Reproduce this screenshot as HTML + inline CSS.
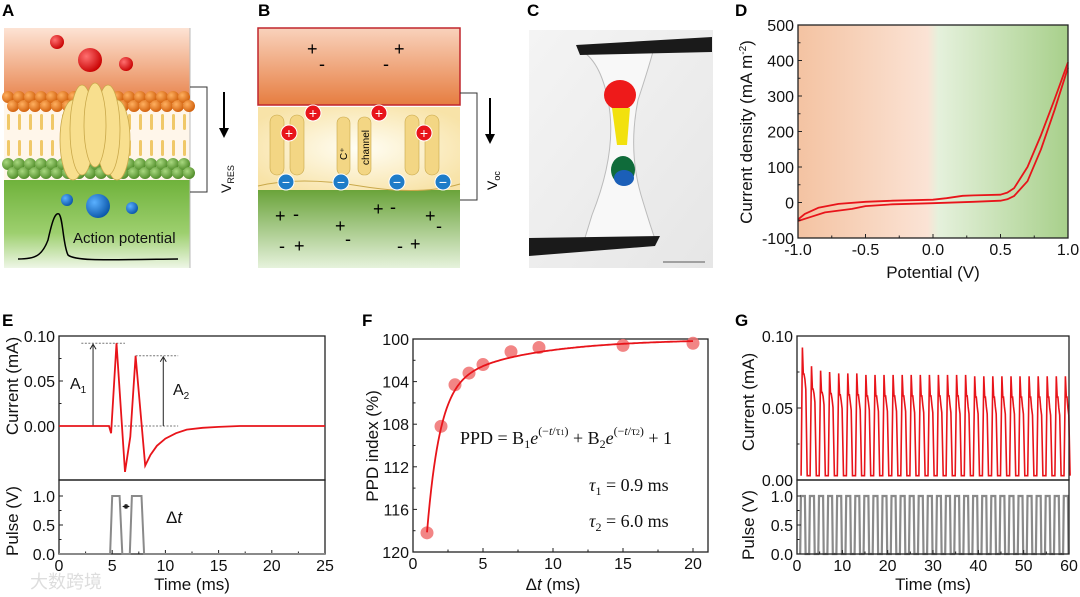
<!DOCTYPE html>
<html><head><meta charset="utf-8"><style>
html,body{margin:0;padding:0;background:#fff;}
svg{display:block;font-family:"Liberation Sans",Arial,sans-serif;}
</style></head><body>
<svg id="fig" width="1080" height="597" viewBox="0 0 1080 597" xmlns="http://www.w3.org/2000/svg">
<defs>
<linearGradient id="aTop" x1="0" y1="0" x2="0" y2="1"><stop offset="0" stop-color="#fde3d4"/><stop offset="1" stop-color="#e8844d"/></linearGradient>
<linearGradient id="aBot" x1="0" y1="0" x2="0" y2="1"><stop offset="0" stop-color="#6fb23b"/><stop offset="0.6" stop-color="#9dcf6e"/><stop offset="1" stop-color="#eef6e6"/></linearGradient>
<linearGradient id="bTop" x1="0" y1="0" x2="0" y2="1"><stop offset="0" stop-color="#f9d2bc"/><stop offset="1" stop-color="#e67d40"/></linearGradient>
<linearGradient id="bBot" x1="0" y1="0" x2="0" y2="1"><stop offset="0" stop-color="#6aa33a"/><stop offset="1" stop-color="#e6f2dc"/></linearGradient>
<radialGradient id="bMid" cx="0.5" cy="0.5" r="0.6"><stop offset="0" stop-color="#fffef5"/><stop offset="1" stop-color="#f8e3a8"/></radialGradient>
<linearGradient id="dBg" x1="0" y1="0" x2="1" y2="0"><stop offset="0" stop-color="#f4c3a2"/><stop offset="0.48" stop-color="#fbe3d5"/><stop offset="0.52" stop-color="#e5f1dc"/><stop offset="1" stop-color="#a8d08b"/></linearGradient>
<radialGradient id="redBall" cx="0.35" cy="0.35" r="0.7"><stop offset="0" stop-color="#ff7070"/><stop offset="1" stop-color="#c80000"/></radialGradient>
<radialGradient id="blueBall" cx="0.35" cy="0.35" r="0.7"><stop offset="0" stop-color="#5ab0ff"/><stop offset="1" stop-color="#0a55a8"/></radialGradient>
<radialGradient id="orgBall" cx="0.35" cy="0.35" r="0.7"><stop offset="0" stop-color="#ffb060"/><stop offset="1" stop-color="#d05e0a"/></radialGradient>
<radialGradient id="grnBall" cx="0.35" cy="0.35" r="0.7"><stop offset="0" stop-color="#a9d880"/><stop offset="1" stop-color="#4d8a26"/></radialGradient>
<linearGradient id="photo" x1="0" y1="0" x2="1" y2="1"><stop offset="0" stop-color="#f4f4f4"/><stop offset="1" stop-color="#e6e6e6"/></linearGradient>
</defs>

<g font-weight="bold" font-size="17" fill="#000">
<text x="2" y="16">A</text>
<text x="258" y="16">B</text>
<text x="527" y="16">C</text>
<text x="735" y="16">D</text>
<text x="2" y="326">E</text>
<text x="362" y="326">F</text>
<text x="735" y="326">G</text>
</g>

<g>
<rect x="4" y="28" width="186" height="72" fill="url(#aTop)"/>
<rect x="4" y="100" width="186" height="85" fill="#fff6ea"/>
<rect x="4" y="180" width="186" height="88" fill="url(#aBot)"/>
<line x1="190" y1="28" x2="190" y2="268" stroke="#bbb"/>
<g id="aLipids"></g>
<circle cx="57" cy="42" r="7" fill="url(#redBall)"/>
<circle cx="90" cy="60" r="12" fill="url(#redBall)"/>
<circle cx="126" cy="64" r="7" fill="url(#redBall)"/>
<g fill="#f8df8e" stroke="#c9a84a" stroke-width="0.8">
<ellipse cx="73" cy="140" rx="13" ry="40"/><ellipse cx="117" cy="140" rx="13" ry="40"/>
<ellipse cx="82" cy="130" rx="12" ry="45"/><ellipse cx="108" cy="130" rx="12" ry="45"/>
<ellipse cx="95" cy="125" rx="11" ry="42"/>
</g>
<circle cx="67" cy="200" r="6" fill="url(#blueBall)"/>
<circle cx="98" cy="206" r="12" fill="url(#blueBall)"/>
<circle cx="132" cy="208" r="6" fill="url(#blueBall)"/>
<path d="M18,259 C35,259 42,256 48,240 C52,222 55,212 59,214 C63,218 63,245 68,255 C75,261 100,260 178,259" fill="none" stroke="#000" stroke-width="1.5"/>
<text x="73" y="243" font-size="15" fill="#111">Action potential</text>
<path d="M190,87 H207 V192 H190" fill="none" stroke="#333" stroke-width="1"/>
<line x1="224" y1="92" x2="224" y2="132" stroke="#000" stroke-width="2"/>
<path d="M219,128 L224,138 L229,128 Z" fill="#000"/>
<text transform="translate(231,193) rotate(-90)" font-size="14" fill="#111">V<tspan font-size="9" dy="3">RES</tspan></text>
</g>

<g>
<rect x="258" y="28" width="202" height="77" fill="url(#bTop)" stroke="#c0272d" stroke-width="1.5"/>
<rect x="258" y="107" width="202" height="83" fill="url(#bMid)"/>
<rect x="258" y="190" width="202" height="78" fill="url(#bBot)"/>
<g fill="#f3d684" stroke="#c9a84a" stroke-width="0.6">
<rect x="270" y="115" width="14" height="60" rx="7"/><rect x="290" y="115" width="14" height="60" rx="7"/>
<rect x="337" y="117" width="13" height="58" rx="6"/><rect x="358" y="117" width="13" height="58" rx="6"/>
<rect x="405" y="115" width="14" height="60" rx="7"/><rect x="425" y="115" width="14" height="60" rx="7"/>
</g>
<path d="M258,186 Q300,176 360,186 T460,184" fill="none" stroke="#c9a84a"/>
<text transform="translate(347,160) rotate(-90)" font-size="10">C⁺</text>
<text transform="translate(369,165) rotate(-90)" font-size="10">channel</text>
<g id="bIons"></g>
<g font-size="18" fill="#000">
<text x="307" y="55">+</text><text x="319" y="70">-</text><text x="383" y="70">-</text><text x="394" y="55">+</text>
<text x="275" y="222">+</text><text x="293" y="220">-</text><text x="335" y="232">+</text><text x="345" y="245">-</text>
<text x="373" y="215">+</text><text x="390" y="213">-</text><text x="425" y="222">+</text><text x="436" y="232">-</text>
<text x="279" y="252">-</text><text x="294" y="252">+</text><text x="397" y="252">-</text><text x="410" y="250">+</text>
</g>
<path d="M460,93 H477 V200 H460" fill="none" stroke="#333" stroke-width="1"/>
<line x1="490" y1="98" x2="490" y2="138" stroke="#000" stroke-width="2"/>
<path d="M485,134 L490,144 L495,134 Z" fill="#000"/>
<text transform="translate(497,190) rotate(-90)" font-size="14">V<tspan font-size="9" dy="3">oc</tspan></text>
</g>

<g>
<rect x="529" y="30" width="184" height="238" fill="url(#photo)"/>
<path d="M580,50 Q600,60 608,100 Q618,150 592,215 Q585,238 583,244 L656,242 Q650,225 641,195 Q628,150 638,100 Q648,70 654,48 Z" fill="#f8f8f8" stroke="#bbb" stroke-width="1"/>
<ellipse cx="620" cy="95" rx="16" ry="15" fill="#ee1a1a"/>
<path d="M612,108 L630,108 L627,145 L617,145 Z" fill="#f2e10e"/>
<ellipse cx="623" cy="170" rx="12" ry="14" fill="#0f6b3a"/>
<ellipse cx="624" cy="178" rx="10" ry="8" fill="#1b5fb8"/>
<path d="M576,45 L712,37 L712,52 L580,55 Z" fill="#1a1a1a"/>
<path d="M529,238 L660,236 L655,246 L529,256 Z" fill="#1a1a1a"/>
<line x1="663" y1="262" x2="705" y2="262" stroke="#888" stroke-width="1.5"/>
</g>

<g id="charts"></g>
<text x="30" y="588" font-size="18" fill="#ddd" font-family="'Liberation Sans','Noto Sans CJK SC',sans-serif">大数跨境</text>
</svg>

<script>
var dForwardV = [-1.0,-0.9,-0.8,-0.6,-0.5,-0.3,0.0,0.3,0.5,0.55,0.6,0.7,0.8,0.9,1.0];
var dForwardI = [-52,-40,-28,-18,-10,-5,-2,2,5,9,18,60,150,260,380];
var dReturnV = [1.0,0.9,0.8,0.7,0.6,0.55,0.5,0.3,0.22,0.1,0.0,-0.3,-0.5,-0.7,-0.85,-0.95,-1.0];
var dReturnI = [395,290,190,100,40,28,22,20,19,12,8,5,2,-4,-15,-32,-48];
var dXTicks = [-1.0,-0.5,0.0,0.5,1.0];
var dXLabels = ["-1.0","-0.5","0.0","0.5","1.0"];
var dYTicks = [-100,0,100,200,300,400,500];

var eTime = [0,4.7,4.9,5.4,6.2,6.7,7.2,8.1,8.6,9.2,10,11,12,13.5,15,17,25];
var eCurrent = [0,0,-0.008,0.092,-0.051,-0.012,0.078,-0.044,-0.032,-0.022,-0.014,-0.008,-0.004,-0.002,-0.001,0,0];
var ePulseT = [0,4.8,5.0,5.7,5.95,6.65,6.85,7.75,8.0,25];
var ePulseV = [0,0,1,1,0,0,1,1,0,0];
var eXTicks = [0,5,10,15,20,25];
var eYTicks = [0,0.05,0.10];
var eYLabels = ["0.00","0.05","0.10"];
var ePulseTicks = [0,0.5,1.0];
var ePulseLabels = ["0.0","0.5","1.0"];

var fDt = [1,2,3,4,5,7,9,15,20];
var fPPD = [118.2,108.2,104.3,103.2,102.4,101.2,100.8,100.6,100.4];
var fB1 = 41, fTau1 = 0.9, fB2 = 5.5, fTau2 = 6.0;
var fXTicks = [0,5,10,15,20];
var fYTicks = [100,104,108,112,116,120];

var gPeaks = [0.092,0.079,0.076,0.075,0.074,0.074,0.074,0.073,0.073,0.073,0.073,0.073,0.073,0.073,0.073,0.073,0.073,0.073,0.073,0.072,0.072,0.072,0.072,0.072,0.072,0.072,0.072,0.072,0.072,0.072];
var gSub = [0.070,0.060,0.058,0.056,0.055,0.054,0.054,0.054,0.053,0.053,0.053,0.053,0.052,0.052,0.052,0.052,0.052,0.051,0.051,0.051,0.051,0.051,0.051,0.051,0.051,0.050,0.050,0.050,0.050,0.050];
var gPeriod = 2.0;
var gXTicks = [0,10,20,30,40,50,60];
var gYTicks = [0,0.05,0.10];
var gYLabels = ["0.00","0.05","0.10"];

var NS = "http://www.w3.org/2000/svg";
var root = document.getElementById("charts");
var TICK = 16, TITLE = 17;
function mk(tag, attrs, parent){ var e=document.createElementNS(NS,tag); for(var k in attrs) e.setAttribute(k,attrs[k]); (parent||root).appendChild(e); return e; }
function lin(d0,d1,r0,r1){ return function(v){ return r0+(v-d0)/(d1-d0)*(r1-r0); }; }
function txt(x,y,s,size,anchor,parent){ var t=mk("text",{x:x,y:y,"font-size":size,"text-anchor":anchor||"middle",fill:"#111"},parent); t.textContent=s; return t; }
function poly(xs,ys,sx,sy){ var p=""; for(var i=0;i<xs.length;i++) p+=(i?"L":"M")+sx(xs[i]).toFixed(1)+","+sy(ys[i]).toFixed(1); return p; }
function frame(x0,y0,x1,y1,parent){ mk("rect",{x:x0,y:y0,width:x1-x0,height:y1-y0,fill:"none",stroke:"#222","stroke-width":1.3},parent); }
function xTicks(ticks,labels,sx,yb,parent,minor){ ticks.forEach(function(t,i){ mk("line",{x1:sx(t),y1:yb,x2:sx(t),y2:yb-4,stroke:"#222"},parent); txt(sx(t),yb+17,labels?labels[i]:String(t),TICK,"middle",parent); });
  if(minor) for(var i=0;i<ticks.length-1;i++){ var m=(ticks[i]+ticks[i+1])/2; mk("line",{x1:sx(m),y1:yb,x2:sx(m),y2:yb-2.5,stroke:"#222"},parent);} }
function yTicks(ticks,labels,sy,xl,parent,minor){ ticks.forEach(function(t,i){ mk("line",{x1:xl,y1:sy(t),x2:xl+4,y2:sy(t),stroke:"#222"},parent); txt(xl-4,sy(t)+6,labels?labels[i]:String(t),TICK,"end",parent); });
  if(minor) for(var i=0;i<ticks.length-1;i++){ var m=(ticks[i]+ticks[i+1])/2; mk("line",{x1:xl,y1:sy(m),x2:xl+2.5,y2:sy(m),stroke:"#222"},parent);} }
function yTitle(x,y,s,parent){ var t=mk("text",{transform:"translate("+x+","+y+") rotate(-90)","font-size":TITLE,"text-anchor":"middle",fill:"#111"},parent); t.textContent=s; return t; }

// Panel D
var gd = mk("g",{});


var dx = lin(-1,1,798,1068), dy = lin(-100,500,238,25);
mk("rect",{x:798,y:25,width:270,height:213,fill:"url(#dBg)"},gd);
var dl1 = mk("path",{d:poly(dForwardV,dForwardI,dx,dy),fill:"none",stroke:"#e8141a","stroke-width":1.8,"stroke-linejoin":"round"},gd);


var dl2 = mk("path",{d:poly(dReturnV,dReturnI,dx,dy),fill:"none",stroke:"#e8141a","stroke-width":1.8,"stroke-linejoin":"round"},gd);


frame(798,25,1068,238,gd);
xTicks(dXTicks,dXLabels,dx,238,gd,true);
yTicks(dYTicks,null,dy,798,gd,true);
var dxt = txt(933,278,"Potential (V)",TITLE,"middle",gd);


var dyt = mk("text",{transform:"translate(752,132) rotate(-90)","font-size":TITLE,"text-anchor":"middle",fill:"#111"},gd);
dyt.innerHTML = 'Current density (mA m<tspan dy="-6" font-size="10">-2</tspan><tspan dy="6">)</tspan>';



// Panel E
var ge = mk("g",{});


var ex = lin(0,25,59,325), ey = lin(0,0.1,426,336), ep = lin(0,1,554,496);
frame(59,336,325,480,ge);
frame(59,480,325,554,ge);
yTicks(eYTicks,eYLabels,ey,59,ge,true);
yTicks(ePulseTicks,ePulseLabels,ep,59,ge,true);
xTicks(eXTicks,null,ex,554,ge,true);
var dash = {stroke:"#777","stroke-width":1,"stroke-dasharray":"2,1.5"};
mk("line",Object.assign({x1:ex(2.1),y1:ey(0.092),x2:ex(6.2),y2:ey(0.092)},dash),ge);
mk("line",Object.assign({x1:ex(7.2),y1:ey(0.078),x2:ex(11.2),y2:ey(0.078)},dash),ge);
mk("line",Object.assign({x1:ex(3.2),y1:ey(0),x2:ex(11.2),y2:ey(0)},dash),ge);
mk("line",{x1:ex(3.2),y1:ey(0),x2:ex(3.2),y2:ey(0.092)+2,stroke:"#222"},ge);
mk("path",{d:"M"+(ex(3.2)-3)+","+(ey(0.092)+6)+" L"+ex(3.2)+","+(ey(0.092)+1)+" L"+(ex(3.2)+3)+","+(ey(0.092)+6),fill:"none",stroke:"#222"},ge);
mk("line",{x1:ex(9.8),y1:ey(0),x2:ex(9.8),y2:ey(0.078)+2,stroke:"#222"},ge);
mk("path",{d:"M"+(ex(9.8)-3)+","+(ey(0.078)+6)+" L"+ex(9.8)+","+(ey(0.078)+1)+" L"+(ex(9.8)+3)+","+(ey(0.078)+6),fill:"none",stroke:"#222"},ge);
var a1 = txt(70,389,"",16,"start",ge); a1.innerHTML='A<tspan font-size="10" dy="4">1</tspan>';


var a2 = txt(173,395,"",16,"start",ge); a2.innerHTML='A<tspan font-size="10" dy="4">2</tspan>';


var ec = mk("path",{d:poly(eTime,eCurrent,ex,ey),fill:"none",stroke:"#e8141a","stroke-width":1.8},ge);


var epl = mk("path",{d:poly(ePulseT,ePulseV,ex,ep),fill:"none",stroke:"#8a8a8a","stroke-width":2},ge);


mk("line",{x1:ex(5.95)+2,y1:ep(0.82),x2:ex(6.65)-2,y2:ep(0.82),stroke:"#111"},ge);
mk("path",{d:"M"+(ex(5.95)+5)+","+(ep(0.82)-2)+" L"+(ex(5.95)+1)+","+ep(0.82)+" L"+(ex(5.95)+5)+","+(ep(0.82)+2)+" M"+(ex(6.65)-5)+","+(ep(0.82)-2)+" L"+(ex(6.65)-1)+","+ep(0.82)+" L"+(ex(6.65)-5)+","+(ep(0.82)+2),fill:"none",stroke:"#111"},ge);
var edt = txt(166,523,"",17,"start",ge); edt.innerHTML='Δ<tspan font-style="italic">t</tspan>';


var ext = txt(192,590,"Time (ms)",TITLE,"middle",ge);


var ey1 = yTitle(18,386,"Current (mA)",ge);


var ey2 = yTitle(18,521,"Pulse (V)",ge);



// Panel F
var gf = mk("g",{});


var fx = lin(0,20,413,693), fy = lin(100,120,339,552);
frame(413,339,708,552,gf);
xTicks(fXTicks,null,fx,552,gf,true);
yTicks(fYTicks,null,fy,413,gf,true);
fDt.forEach(function(t,i){
  var c = mk("circle",{cx:fx(t),cy:fy(fPPD[i]),r:6.5,fill:"#f07070","fill-opacity":0.85},gf);
  
  
});
var fitT=[], fitV=[];
for(var t=fDt[0]; t<=fDt[fDt.length-1]+1e-9; t+=0.1){ fitT.push(t); fitV.push(100+fB1*Math.exp(-t/fTau1)+fB2*Math.exp(-t/fTau2)); }
var ff = mk("path",{d:poly(fitT,fitV,fx,fy),fill:"none",stroke:"#e8141a","stroke-width":1.8},gf);


var eq = mk("text",{x:460,y:444,"font-size":18,fill:"#111","font-family":"'Liberation Serif',serif"},gf);
eq.innerHTML='PPD = B<tspan font-size="12" dy="4">1</tspan><tspan dy="-4" font-style="italic">e</tspan><tspan font-size="12" dy="-9">(−<tspan font-style="italic">t</tspan>/τ<tspan font-size="8">1</tspan>)</tspan><tspan dy="9"> + B</tspan><tspan font-size="12" dy="4">2</tspan><tspan dy="-4" font-style="italic">e</tspan><tspan font-size="12" dy="-9">(−<tspan font-style="italic">t</tspan>/τ<tspan font-size="8">2</tspan>)</tspan><tspan dy="9"> + 1</tspan>';


var t1 = mk("text",{x:589,y:491,"font-size":18,fill:"#111","font-family":"'Liberation Serif',serif"},gf);
t1.innerHTML='<tspan font-style="italic">τ</tspan><tspan font-size="12" dy="4">1</tspan><tspan dy="-4"> = 0.9 ms</tspan>';


var t2 = mk("text",{x:589,y:527,"font-size":18,fill:"#111","font-family":"'Liberation Serif',serif"},gf);
t2.innerHTML='<tspan font-style="italic">τ</tspan><tspan font-size="12" dy="4">2</tspan><tspan dy="-4"> = 6.0 ms</tspan>';


var fxt = txt(553,590,"",TITLE,"middle",gf); fxt.innerHTML='Δ<tspan font-style="italic">t</tspan> (ms)';


var fyt = yTitle(378,446,"PPD index (%)",gf);



// Panel G
var gg = mk("g",{});


var gx = lin(0,60,797,1069), gy = lin(0,0.1,480,336), gp = lin(0,1,554,496);
var cT=[], cV=[], pT=[], pV=[];
gPeaks.forEach(function(pk,i){
  var t0 = i*gPeriod + 0.9;
  cT.push(t0, t0+0.3, t0+0.5, t0+0.65, t0+0.85, t0+1.05, t0+1.35);
  cV.push(0.003, pk, pk*0.8, pk*0.8, gSub[i], gSub[i]*0.9, 0.003);
  var s = i*gPeriod + 0.7;
  pT.push(s, s+0.15, s+1.05, s+1.2);
  pV.push(0, 1, 1, 0);
});
var gc = mk("path",{d:poly(cT,cV,gx,gy),fill:"none",stroke:"#e8141a","stroke-width":1.6},gg);


var gpl = mk("path",{d:poly(pT,pV,gx,gp),fill:"none",stroke:"#8a8a8a","stroke-width":2.2},gg);


frame(797,336,1069,480,gg);
frame(797,480,1069,554,gg);
yTicks(gYTicks,gYLabels,gy,797,gg,true);
yTicks(ePulseTicks,ePulseLabels,gp,797,gg,true);
xTicks(gXTicks,null,gx,554,gg,true);
var gxt = txt(933,590,"Time (ms)",TITLE,"middle",gg);


var gy1 = yTitle(754,402,"Current (mA)",gg);


var gy2 = yTitle(754,525,"Pulse (V)",gg);



// Panel A lipids
var al = document.getElementById("aLipids");
for(var x=8;x<190;x+=11){
  mk("circle",{cx:x,cy:97,r:6,fill:"url(#orgBall)"},al);
  mk("circle",{cx:x+5,cy:106,r:6,fill:"url(#orgBall)"},al);
  mk("rect",{x:x-1,y:114,width:3,height:16,rx:1.5,fill:"#f0c868"},al);
  mk("rect",{x:x-1,y:140,width:3,height:16,rx:1.5,fill:"#f0c868"},al);
  mk("circle",{cx:x,cy:164,r:6,fill:"url(#grnBall)"},al);
  mk("circle",{cx:x+5,cy:173,r:6,fill:"url(#grnBall)"},al);
}
// Panel B ions
var bi = document.getElementById("bIons");
[[313,113],[379,113],[289,133],[424,133]].forEach(function(p){
  mk("circle",{cx:p[0],cy:p[1],r:8,fill:"#e8141a",stroke:"#fff","stroke-width":1},bi);
  txt(p[0],p[1]+5,"+",14,"middle",bi).setAttribute("fill","#fff");
});
[[286,182],[341,182],[397,182],[443,182]].forEach(function(p){
  mk("circle",{cx:p[0],cy:p[1],r:8,fill:"#1e7cc8",stroke:"#fff","stroke-width":1},bi);
  txt(p[0],p[1]+5,"−",14,"middle",bi).setAttribute("fill","#fff");
});
</script>
</body></html>
